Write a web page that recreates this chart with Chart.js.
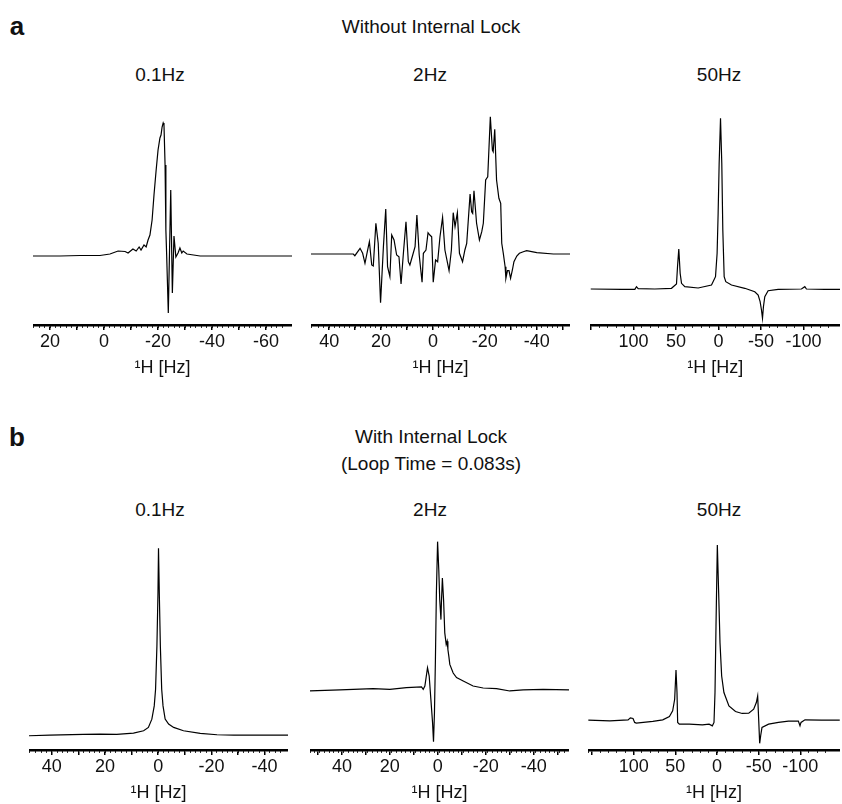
<!DOCTYPE html>
<html>
<head>
<meta charset="utf-8">
<script src="https://cdn.jsdelivr.net/npm/chart.js@4.4.1/dist/chart.umd.min.js"></script>
<style>
  body { margin:0; background:#fff; width:842px; height:804px; position:relative; overflow:hidden;
         font-family:"Liberation Sans", Arial, sans-serif; color:#111; }
  .txt { position:absolute; transform:translate(-50%,-50%); white-space:nowrap; font-size:19px; }
  .big { font-weight:bold; font-size:26px; }
  .pan { position:absolute; }
</style>
</head>
<body>

<div class="txt big" style="left:17px;top:26px">a</div>
<div class="txt" style="left:431px;top:27px">Without Internal Lock</div>
<div class="txt" style="left:160px;top:75px">0.1Hz</div>
<div class="txt" style="left:430px;top:75px">2Hz</div>
<div class="txt" style="left:719px;top:75px">50Hz</div>

<div class="txt big" style="left:17px;top:437px">b</div>
<div class="txt" style="left:431px;top:437px">With Internal Lock</div>
<div class="txt" style="left:431px;top:464px">(Loop Time = 0.083s)</div>
<div class="txt" style="left:160px;top:510px">0.1Hz</div>
<div class="txt" style="left:430px;top:510px">2Hz</div>
<div class="txt" style="left:719px;top:510px">50Hz</div>

<div class="pan" style="left:33px;top:95px"><canvas id="a1" width="259" height="284"></canvas></div>
<div class="pan" style="left:311px;top:95px"><canvas id="a2" width="259" height="284"></canvas></div>
<div class="pan" style="left:590px;top:95px"><canvas id="a3" width="250" height="284"></canvas></div>
<div class="pan" style="left:29px;top:530px"><canvas id="b1" width="259" height="274"></canvas></div>
<div class="pan" style="left:310px;top:530px"><canvas id="b2" width="259" height="274"></canvas></div>
<div class="pan" style="left:588px;top:530px"><canvas id="b3" width="252" height="274"></canvas></div>

<script>
// a) bez locka, 0.1Hz
const a1Hz  = [26.3, 16.3, 8.9, 1.5, -2.2, -5.2, -7.8, -8.9, -10.7, -11.9, -13, -13.7, -14.8, -15.6, -16.3, -17, -17.8, -18.5, -19.3, -20, -20.7, -21.1, -21.5, -21.9, -22.2, -22.6, -22.9, -23.2, -23.8, -24.7, -25.3, -25.9, -26.6, -27.4, -28.1, -28.8, -29.3, -30.7, -35.6, -46.7, -57.8, -69.6]
const a1Int = [0, 0, 0.5, 0.5, 2, 5, 4.5, 3, 7, 5, 9, 6, 11, 9, 16, 21, 36, 61, 86, 106, 118, 121, 129, 133, 131, 91, 26, 0, -57, 66, -37, 20, -1, 3, 8, 3, 5, 2, 0, 0, 0, 0]
// a) 2Hz
const a2Hz  = [47, 30.7, 30.1, 28.1, 27.1, 26.2, 25.3, 24.5, 23.6, 23, 22, 21.1, 20.2, 19.1, 18.2, 17.5, 16.6, 15.9, 15, 14, 13.1, 12.3, 11.4, 10.4, 9.5, 8.9, 7.8, 6.9, 6.2, 5.3, 4.2, 3.7, 2.7, 1.9, 1.2, 0.5, -0.1, -1, -1.8, -2.7, -3.7, -4.6, -6.2, -7.1, -7.8, -8.5, -9.4, -10.2, -11.4, -12.3, -13, -14.3, -14.9, -15.3, -15.8, -16.8, -17.9, -18.8, -19.4, -20.3, -21.1, -22.1, -22.9, -23.2, -23.8, -24.5, -25.4, -26.1, -26.5, -27.1, -27.8, -28.1, -28.7, -29.3, -29.9, -30.6, -31.2, -32.3, -33.3, -34.8, -36.1, -40, -46.4, -52.8]
const a2Int = [0, 0, -1.7, 5.7, 0.7, -9.3, 2.3, 12.3, -11, -12, 30.7, 10.7, -48.7, 7.3, 45, -12.7, -22.7, 19, 14, -1, -2.7, -30, 0.7, 32.3, -7.7, -11, -1, 7.3, 39, -1, -28.3, 0.7, 4, 21.3, 19, 17.3, -28.3, -6, -7.7, 17.3, 36.7, 4, -16.7, 4, 41.3, 27.3, 41.3, 0.7, -7.7, 4, 10.7, 60, 42.3, 40.7, 63.3, 30.7, 14, 22.3, 30.7, 74, 77.3, 137.3, 104, 102.3, 124.7, 74, 55.7, 50.7, 10.7, 0.7, -12.7, -24.3, -16.7, -16.7, -24.3, -16, -7.7, -2, 0.7, 2.3, 3.3, 1.3, 0, 0]
// a) 50Hz
const a3Hz  = [150.6, 114.1, 98.4, 96.5, 94.5, 74.9, 55.3, 49.4, 48.2, 46.7, 45.1, 43.5, 39.6, 23.9, 8.2, 3.5, 1.6, 0.4, -0.8, -2.4, -3.9, -5.1, -6.7, -8.6, -15.3, -31, -42.7, -46.7, -49, -50.6, -51.8, -52.9, -54.5, -58.4, -70.2, -97.6, -101.6, -103.5, -125.1, -146.7]
const a3Int = [0, -0.3, -0.3, 2.3, 0.3, 0, 0.7, 5, 22.3, 40, 15.7, 5.7, 2.3, 1, 4, 12.3, 35.7, 75.7, 125.7, 170.7, 125.7, 59, 12.3, 7.3, 4, 0.7, -2.7, -6, -12.7, -21, -29.3, -17.7, -7.7, -1.7, -0.3, 0, 2.3, 0, -0.3, -0.3]

// b) z lockiem, 0.1Hz
const b1Hz  = [48.6, 40.8, 28.2, 21.9, 15.6, 9.3, 5.5, 3.7, 2.4, 1.5, 1, 0.5, 0.1, -0.1, -0.4, -0.8, -1.3, -1.8, -2.6, -3.9, -5.8, -9.5, -15.8, -22.1, -28.4, -48.8]
const b1Int = [0.3, 1, 1.7, 2, 1.7, 3, 5.3, 8.7, 17, 30.3, 47, 90.3, 143.7, 188.7, 143.7, 90.3, 47, 30.3, 17, 12, 8.7, 5.3, 2.7, 1.3, 1, 1]
// b) 2Hz
const b2Hz  = [53.3, 40.8, 27, 20, 13.1, 6.8, 6.1, 5.4, 4.3, 3.6, 2.9, 2.2, 1.8, 1.4, 1, 0.6, 0.1, -0.4, -0.8, -1.3, -1.5, -1.9, -2.4, -2.9, -3.5, -3.9, -4.2, -4.6, -5, -6.4, -7.8, -10.6, -14.7, -18.9, -24.5, -30, -35.6, -43.9, -54.7]
const b2Int = [-0.7, 0.3, 1.7, 1, 2.7, 3.3, 1, 4.3, 22.7, 14.3, -9, -32.3, -51.7, -22.3, 31, 97.7, 149.3, 121, 91, 71, 87.7, 112.7, 91, 57.7, 46, 49.3, 41, 34, 26, 17.3, 12.7, 9.3, 4.3, 2.3, 1.7, -0.7, 0.3, 1, 0.3]
// b) 50Hz
const b3Hz  = [154.4, 128.6, 106.7, 104, 100.8, 98.8, 96.8, 77, 65.1, 57.1, 53.2, 50.8, 49.2, 48, 47.2, 45.2, 33.3, 17.5, 9.5, 5.6, 3.6, 2.4, 1.2, -0.4, -2, -3.6, -5.6, -8.3, -14.3, -22.2, -30.2, -38.1, -44, -47.2, -48.8, -50, -51.2, -52.4, -54, -61.9, -73.8, -85.7, -97.6, -99.6, -100.8, -105.6, -125.4, -147.3]
const b3Int = [0, -0.7, 0.3, 2.3, 1.7, -2.3, -3, -1.3, 0.3, 3.7, 9.3, 21, 50.3, 27.7, -2.3, -4, -4, -4.7, -4, -5.7, -2.3, 27.7, 94.3, 176, 127.7, 77.7, 44.3, 27.7, 14.3, 8.7, 6.7, 7, 11, 17.7, 24.3, 1, -23.3, -15.7, -7.3, -4, -2.3, -1, -1, -5.7, -2.3, 0.3, 0, 0]

// ticki na osi x
const ticksA1 = [20, 10, 0, -10, -20, -30, -40, -50, -60]
const labelsA1 = [20, 0, -20, -40, -60]
const ticksA2 = [40, 30, 20, 10, 0, -10, -20, -30, -40, -50]
const labelsA2 = [40, 20, 0, -20, -40]
const ticks50 = [150, 100, 50, 0, -50, -100]
const labels50 = [100, 50, 0, -50, -100]
const ticksB1 = [40, 30, 20, 10, 0, -10, -20, -30, -40]
const ticksB2 = [50, 40, 30, 20, 10, 0, -10, -20, -30, -40, -50]
const labelsB = [40, 20, 0, -20, -40]
// gęste drobne kreski pod osią (krok w Hz)
const minorStepNarrow = 2
const minorStepWide = 10

const font = "'Liberation Sans', Arial, sans-serif"

function panel(id, hz, inten, ticks, labels, minorStep, xmin, xmax, ymin, ymax){
    const pts = hz.map((x, i) => ({x: x, y: inten[i]}))
    return new Chart(document.getElementById(id), {
        type: 'line',
        data: { datasets: [{ data: pts, borderColor: '#000', borderWidth: 1.2, pointRadius: 0, tension: 0, fill: false }] },
        options: {
            responsive: false,
            animation: false,
            layout: { padding: 0 },
            plugins: { legend: { display: false }, tooltip: { enabled: false } },
            scales: {
                // drobne kreski - os bez etykiet, zerowa wysokosc
                xm: {
                    type: 'linear', position: 'bottom', reverse: true, min: xmin, max: xmax, weight: 0,
                    ticks: { display: false, stepSize: minorStep, autoSkip: false },
                    afterFit: s => { s.height = 0 },
                    grid: { drawOnChartArea: false, drawTicks: true, tickLength: 3, color: '#333', lineWidth: 1 },
                    border: { display: false }
                },
                x: {
                    type: 'linear', position: 'bottom', reverse: true, min: xmin, max: xmax, weight: 1,
                    afterBuildTicks: s => { s.ticks = ticks.map(v => ({value: v})) },
                    afterFit: s => { s.height = 54 },
                    grid: { drawOnChartArea: false, drawTicks: true, tickLength: 5, color: '#000', lineWidth: 1.5 },
                    border: { display: true, color: '#000', width: 2.5 },
                    ticks: {
                        autoSkip: false, maxRotation: 0, padding: 1, color: '#111',
                        font: { family: font, size: 18 },
                        callback: v => labels.includes(v) ? String(v) : ''
                    },
                    title: { display: true, text: '¹H [Hz]', color: '#111', font: { family: font, size: 18 }, padding: 0 }
                },
                y: { display: false, min: ymin, max: ymax }
            }
        }
    })
}

panel('a1', a1Hz, a1Int, ticksA1, labelsA1, minorStepNarrow, -69.6, 26.3, -69, 161)
panel('a2', a2Hz, a2Int, ticksA2, labelsA2, minorStepNarrow, -52.8, 47, -71, 159)
panel('a3', a3Hz, a3Int, ticks50, labels50, minorStepWide, -143, 150.6, -36, 194)
panel('b1', b1Hz, b1Int, ticksB1, labelsB, minorStepNarrow, -48.8, 48.6, -14, 207)
panel('b2', b2Hz, b2Int, ticksB2, labelsB, minorStepNarrow, -54.7, 53.3, -60, 161)
panel('b3', b3Hz, b3Int, ticks50, labels50, minorStepWide, -147.6, 154.8, -30, 191)
</script>
</body>
</html>
